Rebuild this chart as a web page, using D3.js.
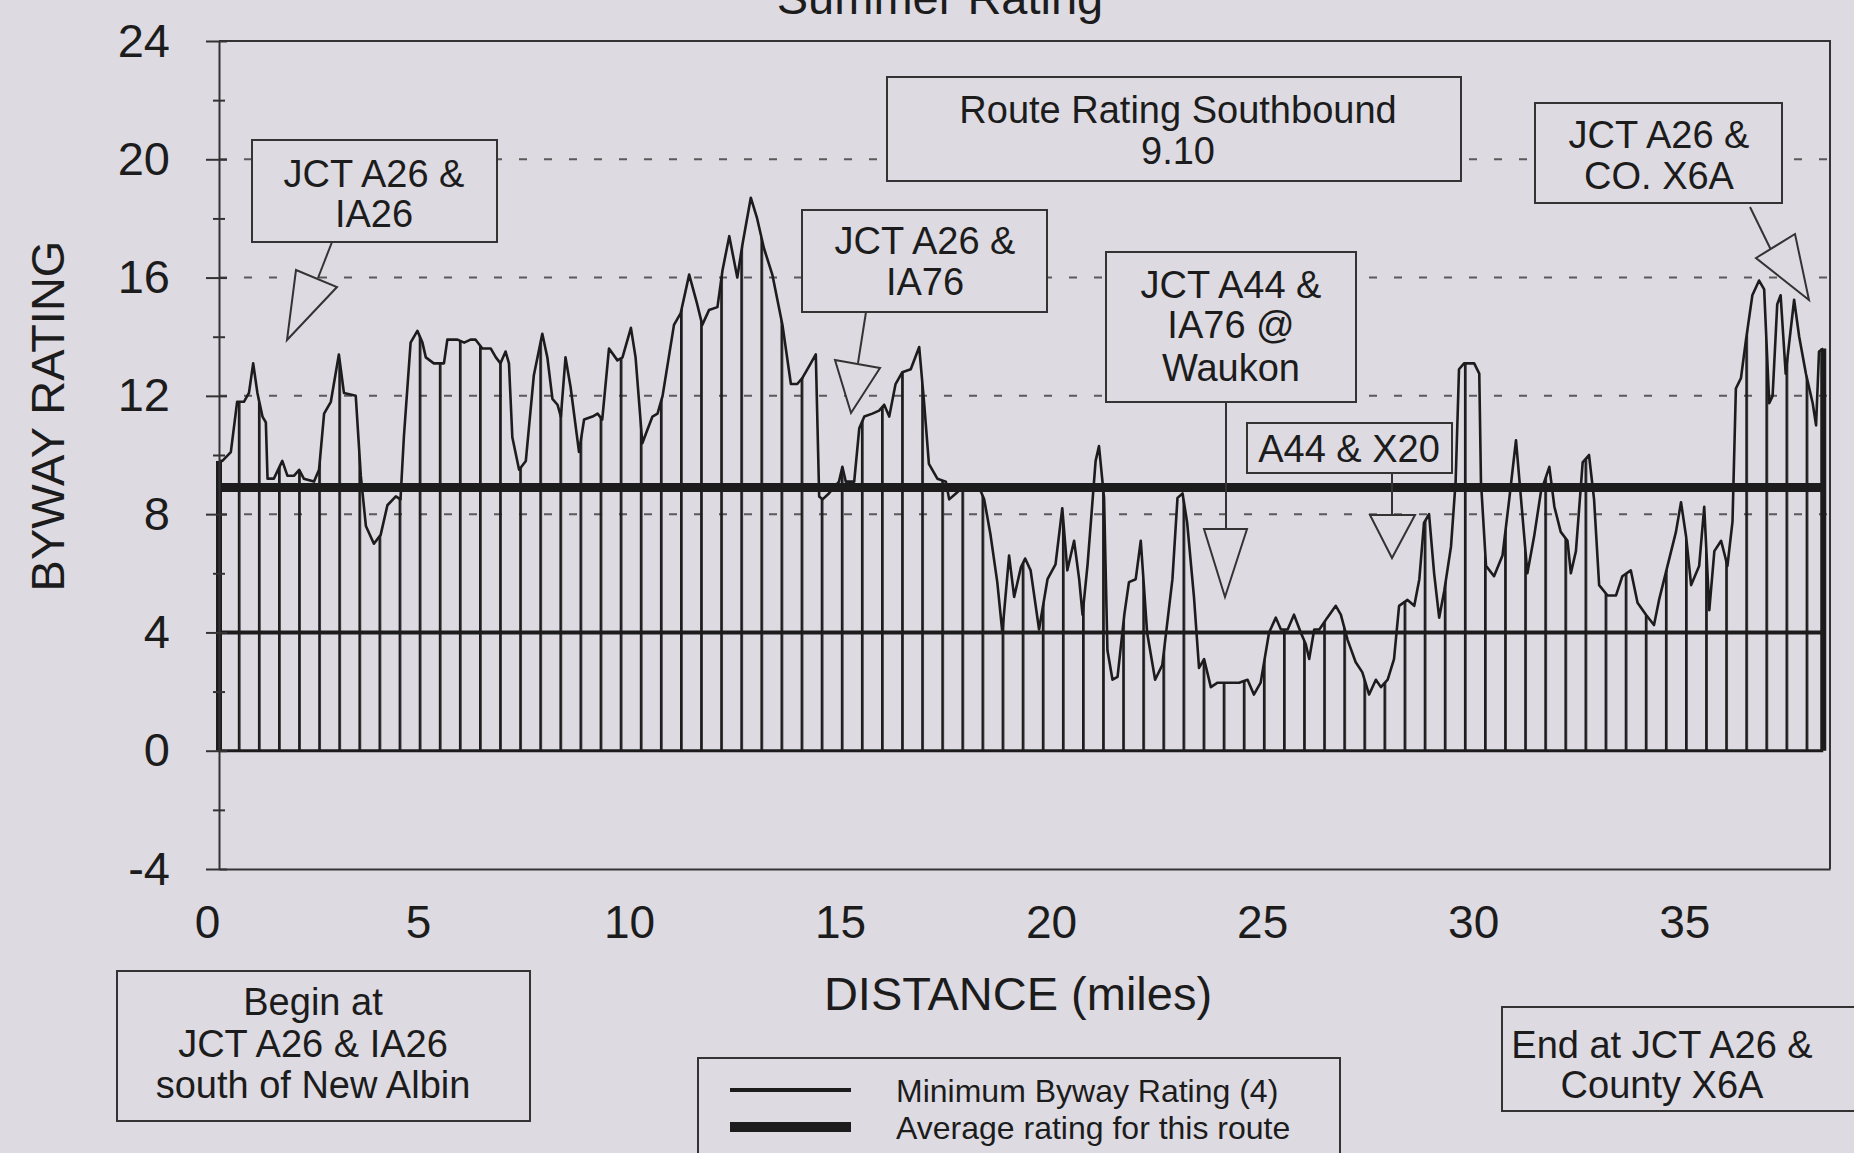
<!DOCTYPE html>
<html>
<head>
<meta charset="utf-8">
<script src="https://cdn.jsdelivr.net/npm/d3@7"></script>
<style>
body{margin:0;background:#dddae2;}
svg{display:block;font-family:"Liberation Sans",Arial,sans-serif;}
</style>
</head>
<body>
<div class="canvas"></div>
<script>
const W=1854, H=1153, BG="#dddae2", INK="#1c1c1c";

// axis ticks
const yTicks=[-4,0,4,8,12,16,20,24];
const yMinor=[-2,2,6,10,14,18,22];
const xTicks=[0,5,10,15,20,25,30,35];
const gridAt=[8,12,16,20];

// reference lines
const minRating=4;
const avgRating=8.9;
const routeEnd=38.17;

// rating profile, [mile, rating]
const miles0to9=[[0,9.8],[0.08,9.8],[0.28,10.1],[0.43,11.8],[0.59,11.8],[0.71,12.1],[0.81,13.1],[0.91,12.1],[1.03,11.3],[1.11,11.1],[1.15,9.2],[1.3,9.2],[1.5,9.8],[1.62,9.3],[1.78,9.3],[1.9,9.5],[2.01,9.2],[2.25,9.1],[2.37,9.5],[2.49,11.4],[2.65,11.8],[2.84,13.4],[2.96,12.1],[3.24,12.0],[3.36,9.3],[3.48,7.6],[3.67,7.0],[3.83,7.3],[3.99,8.3],[4.19,8.6],[4.3,8.5],[4.38,10.6],[4.54,13.8],[4.7,14.2],[4.82,13.8],[4.9,13.3],[5.09,13.1],[5.33,13.1],[5.41,13.9],[5.65,13.9],[5.81,13.8],[5.96,13.9],[6.08,13.9],[6.24,13.6],[6.44,13.6],[6.56,13.3],[6.67,13.1],[6.79,13.5],[6.87,13.1],[6.95,10.6],[7.11,9.5],[7.27,9.8],[7.46,12.7],[7.66,14.1],[7.78,13.3],[7.9,11.9],[8.02,11.7],[8.1,11.3],[8.21,13.3],[8.33,12.3],[8.53,10.1],[8.65,11.2],[8.85,11.3],[8.97,11.4],[9.08,11.2],[9.24,13.6],[9.44,13.2]];
const miles9to19=[[9.56,13.3],[9.76,14.3],[9.87,13.3],[10.03,10.4],[10.11,10.7],[10.27,11.3],[10.39,11.4],[10.51,12.0],[10.78,14.4],[10.94,14.8],[11.14,16.1],[11.33,15.1],[11.45,14.4],[11.61,14.9],[11.81,15.0],[11.93,16.25],[12.09,17.4],[12.28,16.0],[12.4,17.1],[12.6,18.7],[12.75,18.0],[12.91,17.0],[13.11,16.1],[13.35,14.4],[13.55,12.4],[13.7,12.4],[13.82,12.6],[13.98,13.0],[14.14,13.4],[14.22,8.6],[14.3,8.5],[14.45,8.7],[14.69,9.1],[14.77,9.6],[14.85,9.1],[15.05,9.1],[15.17,10.9],[15.29,11.3],[15.48,11.4],[15.64,11.5],[15.76,11.7],[15.88,11.3],[16.03,12.4],[16.19,12.8],[16.39,12.9],[16.59,13.65],[16.71,11.7],[16.82,9.7],[17.02,9.2],[17.22,9.1],[17.3,8.5],[17.46,8.7],[17.61,8.9],[18.01,8.9],[18.13,8.5],[18.28,7.3],[18.44,5.7],[18.56,4.0],[18.72,6.6],[18.84,5.2],[19.0,6.2]];
const miles19to29=[[19.1,6.5],[19.23,6.1],[19.43,4.1],[19.63,5.8],[19.82,6.3],[19.98,8.2],[20.1,6.1],[20.26,7.1],[20.38,5.8],[20.46,4.6],[20.58,6.3],[20.77,9.8],[20.85,10.3],[20.97,8.55],[21.05,3.4],[21.17,2.4],[21.29,2.5],[21.45,4.6],[21.56,5.7],[21.72,5.8],[21.84,7.1],[21.99,4.0],[22.18,2.4],[22.35,2.9],[22.59,5.8],[22.71,8.55],[22.83,8.7],[22.94,7.7],[23.1,5.2],[23.22,2.8],[23.34,3.1],[23.5,2.15],[23.66,2.3],[23.89,2.3],[24.17,2.3],[24.37,2.4],[24.52,1.9],[24.68,2.3],[24.88,4.0],[25.04,4.5],[25.16,4.1],[25.32,4.1],[25.47,4.6],[25.63,4.0],[25.75,3.6],[25.83,3.1],[25.95,4.1],[26.07,4.1],[26.26,4.5],[26.46,4.9],[26.58,4.6],[26.74,3.75],[26.93,3.0],[27.09,2.65],[27.25,1.9],[27.41,2.4],[27.53,2.15],[27.69,2.4],[27.84,3.1],[27.96,4.9],[28.16,5.1],[28.32,4.9],[28.44,5.8],[28.55,7.7]];
const miles29to38=[[28.67,8.0],[28.79,6.0],[28.91,4.5],[29.03,5.4],[29.19,6.9],[29.3,9.1],[29.38,12.9],[29.5,13.1],[29.74,13.1],[29.86,12.75],[29.9,9.1],[30.02,6.25],[30.21,5.9],[30.41,6.6],[30.57,8.5],[30.73,10.5],[30.85,8.5],[31.0,6.0],[31.16,7.25],[31.32,8.75],[31.52,9.6],[31.64,8.25],[31.79,7.4],[31.95,7.1],[32.03,6.0],[32.15,6.75],[32.31,9.75],[32.46,10.0],[32.58,8.5],[32.7,5.6],[32.9,5.25],[33.1,5.25],[33.25,5.9],[33.45,6.1],[33.61,5.0],[33.81,4.6],[34.0,4.25],[34.12,5.1],[34.32,6.25],[34.52,7.4],[34.64,8.4],[34.76,7.25],[34.88,5.6],[35.07,6.25],[35.19,8.25],[35.31,4.75],[35.43,6.75],[35.59,7.1],[35.74,6.25],[35.86,7.75],[35.94,12.25],[36.06,12.6],[36.18,13.9],[36.33,15.4],[36.49,15.9],[36.61,15.6],[36.73,11.75],[36.81,12.0],[36.92,15.1],[37.0,15.4],[37.12,12.75],[37.32,15.25],[37.44,14.0],[37.6,12.75],[37.76,11.75],[37.84,11.0],[37.91,13.5],[38.01,13.6]];

// callout texts
const calloutText=[
  ["JCT A26 &","IA26"],
  ["Route Rating Southbound","9.10"],
  ["JCT A26 &","IA76"],
  ["JCT A44 &","IA76 @","Waukon"],
  ["A44 & X20"],
  ["JCT A26 &","CO. X6A"],
  ["Begin at","JCT A26 & IA26","south of New Albin"],
  ["End at JCT A26 &","County X6A"]
];
const legendText=["Minimum Byway Rating (4)","Average rating for this route"];

const profile=miles0to9.concat(miles9to19,miles19to29,miles29to38);
const last=profile[profile.length-1];

const x=d3.scaleLinear().domain([0,routeEnd]).range([219,1830]);
const y=d3.scaleLinear().domain([-4,24]).range([869,41]);

const svg=d3.select(".canvas").append("svg")
  .attr("width",W).attr("height",H)
  .style("background",BG);

// vertical hatch used by the area
svg.append("defs").append("pattern")
  .attr("id","vhatch")
  .attr("patternUnits","userSpaceOnUse")
  .attr("x",x(0)-1.3).attr("y",0)
  .attr("width",20.1).attr("height",40)
  .append("rect").attr("width",2.7).attr("height",40).attr("fill",INK);

// dashed gridlines
svg.append("g").selectAll("line").data(gridAt).enter().append("line")
  .attr("x1",x(0)).attr("x2",x.range()[1])
  .attr("y1",d=>y(d)).attr("y2",d=>y(d))
  .attr("stroke","#5a5a5a").attr("stroke-width",2)
  .attr("stroke-dasharray","8,17");

// hatched area + profile line
svg.append("path").datum(profile)
  .attr("fill","url(#vhatch)")
  .attr("d",d3.area().x(d=>x(d[0])).y0(y(0)).y1(d=>y(d[1])));

svg.append("path").datum(profile)
  .attr("fill","none").attr("stroke",INK).attr("stroke-width",2.6)
  .attr("stroke-linejoin","round")
  .attr("d",d3.line().x(d=>x(d[0])).y(d=>y(d[1])));

// end edges of the area
svg.append("g").selectAll("line").data([profile[0],last]).enter().append("line")
  .attr("x1",d=>x(d[0])).attr("x2",d=>x(d[0]))
  .attr("y1",y(0)).attr("y2",d=>y(d[1]))
  .attr("stroke",INK).attr("stroke-width",6);

// baseline, minimum and average
const hline=(v,w)=>svg.append("line")
  .attr("x1",x(0)).attr("x2",x(last[0]))
  .attr("y1",y(v)).attr("y2",y(v))
  .attr("stroke",INK).attr("stroke-width",w);
hline(0,3);
hline(minRating,4);
hline(avgRating,9);

// frame: top and right
svg.append("path")
  .attr("d",`M${x(0)},${y(24)}H${x.range()[1]}V${y(-4)}`)
  .attr("fill","none").attr("stroke","#333").attr("stroke-width",2);

// y axis
const yAxis=svg.append("g")
  .attr("transform",`translate(${x(0)},0)`)
  .call(d3.axisLeft(y).tickValues(yTicks).tickFormat(d=>String(d))
    .tickSize(13).tickSizeOuter(0).tickPadding(36));
yAxis.select(".domain").attr("stroke","#333").attr("stroke-width",2);
yAxis.selectAll(".tick line").attr("x1",8).attr("stroke","#333").attr("stroke-width",2);
yAxis.selectAll(".tick text").attr("font-size",47).attr("fill",INK).attr("font-family",null);

const yMinorAxis=svg.append("g")
  .attr("transform",`translate(${x(0)},0)`)
  .call(d3.axisLeft(y).tickValues(yMinor).tickSize(6).tickFormat(""));
yMinorAxis.select(".domain").remove();
yMinorAxis.selectAll(".tick line").attr("x1",6).attr("stroke","#333").attr("stroke-width",2);

// x axis (bottom frame)
const xAxis=svg.append("g")
  .attr("transform",`translate(0,${y(-4)})`)
  .call(d3.axisBottom(x).tickValues(xTicks).tickSize(0).tickSizeOuter(0).tickPadding(36));
xAxis.select(".domain").attr("stroke","#333").attr("stroke-width",2);
xAxis.selectAll(".tick text").attr("font-size",46).attr("fill",INK).attr("dx",-12).attr("font-family",null);

// titles
svg.append("text").attr("x",940).attr("y",14).attr("text-anchor","middle")
  .attr("font-size",47).attr("fill",INK).text("Summer Rating");
svg.append("text").attr("x",1018).attr("y",1010).attr("text-anchor","middle")
  .attr("font-size",47).attr("fill",INK).text("DISTANCE (miles)");
svg.append("text").attr("transform","translate(64,416) rotate(-90)")
  .attr("text-anchor","middle").attr("font-size",47).attr("fill",INK).text("BYWAY RATING");

// callouts: box, pointer line, hollow arrow head
const boxes=[
  {x:252,y:140,w:245,h:102,cx:374,ty:[173,213]},
  {x:887,y:77,w:574,h:104,cx:1178,ty:[109,150]},
  {x:802,y:210,w:245,h:102,cx:925,ty:[240,281]},
  {x:1106,y:252,w:250,h:150,cx:1231,ty:[284,324,367]},
  {x:1247,y:423,w:205,h:50,cx:1349,ty:[448]},
  {x:1535,y:103,w:247,h:100,cx:1659,ty:[134,175]},
  {x:117,y:971,w:413,h:150,cx:313,ty:[1001,1043,1084]},
  {x:1502,y:1007,w:400,h:104,cx:1662,ty:[1044,1084]}
];
const pointers=[
  {l:[[332,242],[318,278]],t:[[296,270],[337,287],[287,340]]},
  {l:[[866,312],[858,363]],t:[[835,360],[880,368],[851,413]]},
  {l:[[1226,402],[1226,529]],t:[[1204,529],[1247,529],[1225,597]]},
  {l:[[1392,473],[1392,515]],t:[[1370,515],[1415,515],[1392,558]]},
  {l:[[1750,207],[1772,252]],t:[[1756,258],[1795,234],[1809,300]]}
];

pointers.forEach(p=>{
  svg.append("line")
    .attr("x1",p.l[0][0]).attr("y1",p.l[0][1]).attr("x2",p.l[1][0]).attr("y2",p.l[1][1])
    .attr("stroke","#333").attr("stroke-width",2);
  svg.append("polygon").attr("points",p.t.map(d=>d.join(",")).join(" "))
    .attr("fill",BG).attr("stroke","#333").attr("stroke-width",2);
});

boxes.forEach((b,i)=>{
  svg.append("rect").attr("x",b.x).attr("y",b.y).attr("width",b.w).attr("height",b.h)
    .attr("fill",BG).attr("stroke","#333").attr("stroke-width",2);
  calloutText[i].forEach((t,j)=>{
    svg.append("text").attr("x",b.cx).attr("y",b.ty[j]).attr("dy","0.36em")
      .attr("text-anchor","middle").attr("font-size",38).attr("fill",INK).text(t);
  });
});

// legend
svg.append("rect").attr("x",698).attr("y",1058).attr("width",642).attr("height",130)
  .attr("fill",BG).attr("stroke","#333").attr("stroke-width",2);
[[1090,4],[1127,10]].forEach((d,i)=>{
  svg.append("line").attr("x1",730).attr("x2",851).attr("y1",d[0]).attr("y2",d[0])
    .attr("stroke",INK).attr("stroke-width",d[1]);
  svg.append("text").attr("x",896).attr("y",d[0]).attr("dy","0.36em")
    .attr("font-size",32).attr("fill",INK).text(legendText[i]);
});
</script>
</body>
</html>
